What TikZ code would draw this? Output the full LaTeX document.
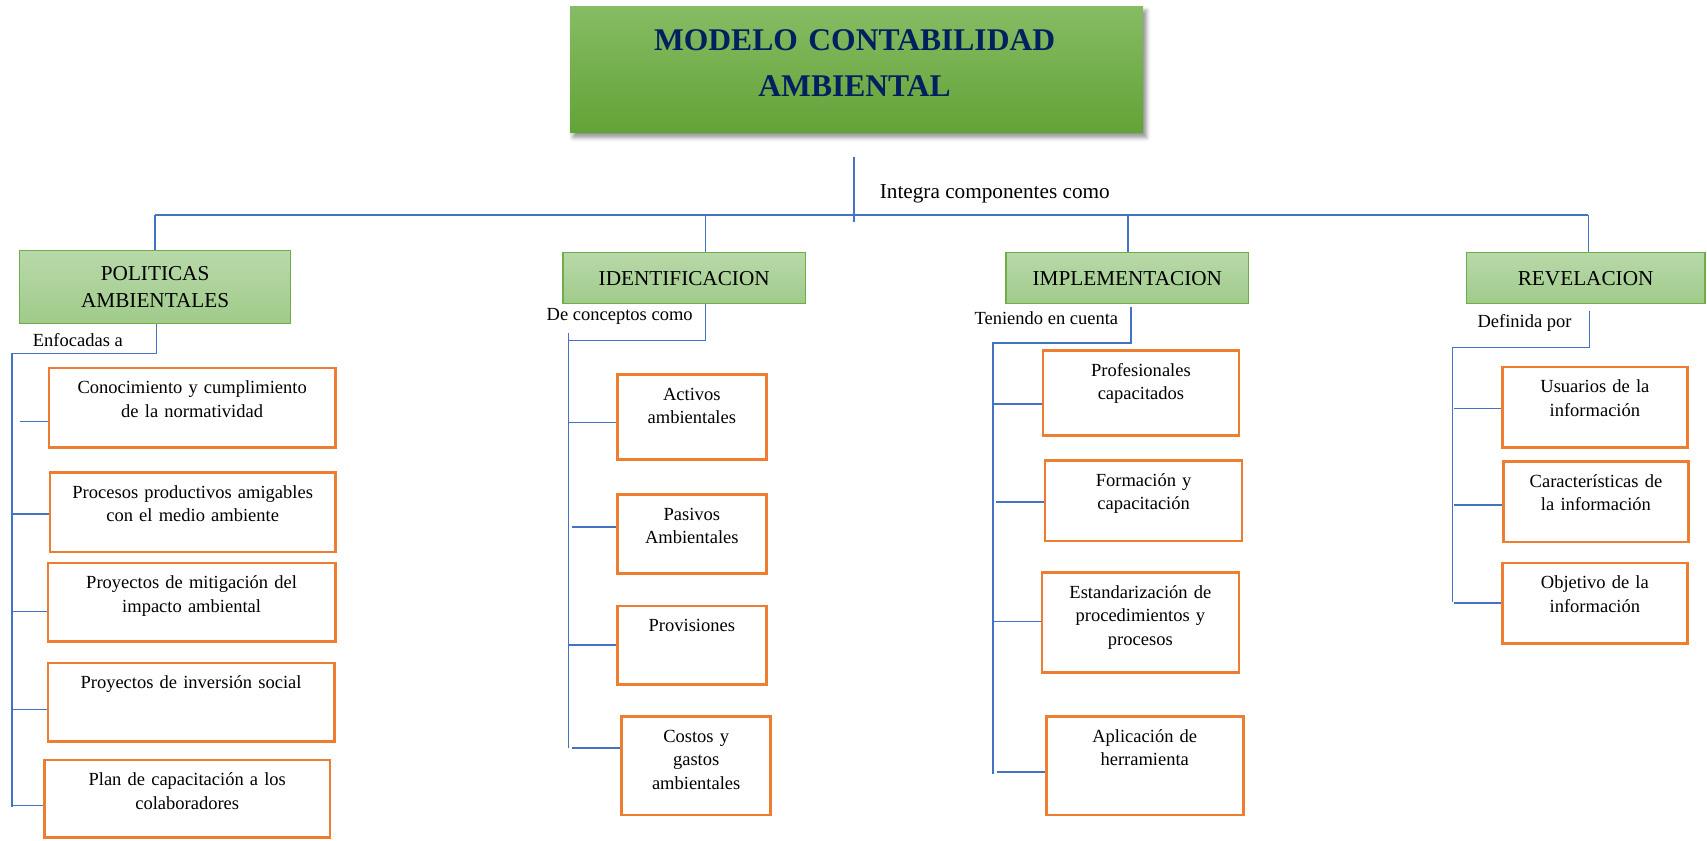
\documentclass[tikz,border=0pt]{standalone}
\usepackage{fontspec}
\setmainfont{Liberation Serif}
\usetikzlibrary{shadows.blur}

\definecolor{linkblue}{HTML}{4472C4}
\definecolor{boxorange}{HTML}{ED7D31}
\definecolor{headgreen}{HTML}{70AD47}
\definecolor{headtop}{RGB}{184,217,170}
\definecolor{headbot}{RGB}{160,203,138}
\definecolor{titletop}{RGB}{134,188,100}
\definecolor{titlebot}{RGB}{98,163,55}
\definecolor{titleink}{HTML}{002060}

% orange item box: name, left, top, right, bottom, text
\newcommand\itembox[6]{%
  \node[obox, minimum width={#4-#2}, minimum height={#5-#3}] (#1) at ({(#2+#4)/2},{(#3+#5)/2}) {};
  \node[btxt] (#1t) at ([yshift=-25pt]#1.north) {#6};}

\begin{document}
\begin{tikzpicture}[x=1pt,y=-1pt,
  link/.style={draw=linkblue, line width=1.2pt},
  obox/.style={draw=boxorange, line width=2.4pt, fill=white, inner sep=0pt},
  btxt/.style={font=\fontsize{17}{21.5}\selectfont, text width=250pt, align=center, anchor=base, inner sep=0pt},
  hbox/.style={draw=headgreen, line width=1.3pt, top color=headtop, bottom color=headbot,
               font=\fontsize{19.5}{25}\selectfont, align=center, inner sep=0pt},
  lbl/.style={font=\fontsize{17}{21}\selectfont, anchor=base west, inner sep=0pt},
  titlebox/.style={top color=titletop, bottom color=titlebot, inner sep=0pt,
               blur shadow={shadow xshift=3pt, shadow yshift=-4pt, shadow blur radius=4pt, shadow opacity=45}},
]
\useasboundingbox (0,0) rectangle (1568,772);

% title
\node[titlebox, minimum width=526.4pt, minimum height=116pt] (title) at (786.8,64) {};
\node[font=\fontsize{29}{42.4}\selectfont\bfseries, text=titleink, align=center,
      text width=500pt, anchor=base, inner sep=0pt] (titlet) at (785,46.6) {MODELO CONTABILIDAD\\AMBIENTAL};

\node[font=\fontsize{19.5}{24}\selectfont, anchor=base west, inner sep=0pt] (integra) at (808,182) {Integra componentes como};

% main branches
\node[hbox, minimum width=249pt, minimum height=67pt] (pol) at (142.5,263.5) {POLITICAS\\AMBIENTALES};
\node[hbox, minimum width=223pt, minimum height=47pt] (iden) at (628.5,255.5) {IDENTIFICACION};
\node[hbox, minimum width=223pt, minimum height=47pt] (impl) at (1035.5,255.5) {IMPLEMENTACION};
\node[hbox, minimum width=219pt, minimum height=47pt] (rev) at (1456.5,255.5) {REVELACION};

% labels under the branches
\node[lbl] (enf) at (30,318) {Enfocadas a};
\node[lbl] (dec) at (502,294) {De conceptos como};
\node[lbl] (ten) at (895,298) {Teniendo en cuenta};
\node[lbl] (def) at (1357,301) {Definida por};

% items
\itembox{p1}{45}{338}{308}{411}{Conocimiento y cumplimiento\\de la normatividad}
\itembox{p2}{46}{434}{308}{507}{Procesos productivos amigables\\con el medio ambiente}
\itembox{p3}{44}{517}{308}{589}{Proyectos de mitigación del\\impacto ambiental}
\itembox{p4}{44}{609}{307}{681}{Proyectos de inversión social}
\itembox{p5}{41}{698}{303}{769.5}{Plan de capacitación a los\\colaboradores}

\itembox{i1}{567}{344}{704}{422}{Activos\\ambientales}
\itembox{i2}{567}{454}{704}{527}{Pasivos\\Ambientales}
\itembox{i3}{567}{556.5}{704}{629}{Provisiones}
\itembox{i4}{571}{658}{708}{748.6}{Costos y\\gastos\\ambientales}

\itembox{m1}{958}{322}{1138}{400}{Profesionales\\capacitados}
\itembox{m2}{960}{423}{1141}{497}{Formación y\\capacitación}
\itembox{m3}{957}{526}{1138}{618}{Estandarización de\\procedimientos y\\procesos}
\itembox{m4}{961}{658}{1142}{748.6}{Aplicación de\\herramienta}

\itembox{r1}{1380}{337}{1550}{411}{Usuarios de la\\información}
\itembox{r2}{1381}{424}{1551}{498}{Características de\\la información}
\itembox{r3}{1380}{517}{1550}{591}{Objetivo de la\\información}

% trunk and bus
\coordinate (stemT) at (784.5,144);
\coordinate (stemB) at (784.5,204);
\coordinate (busW) at (142.5,197.5);
\coordinate (busE) at (1459,197.5);
\coordinate (dI) at (648,197.5);
\coordinate (dM) at (1036,197.5);
\draw[link] (stemT) -- (stemB);
\draw[link] (busW) -- (busE);
\draw[link] (busW) -- (pol.north);
\draw[link] (dI) -- (dI |- iden.north);
\draw[link] (dM) -- (dM |- impl.north);
\draw[link] (busE) -- (busE |- rev.north);

% politicas branch
\coordinate (polK) at (144,325);
\coordinate (polS) at (11,325);
\coordinate (polE) at (11,741);
\draw[link] (polK |- pol.south) -- (polK) -- (polS) -- (polE);
\coordinate (sp1) at (18,387);
\coordinate (sp2) at (11,472);
\coordinate (sp3) at (11,562);
\coordinate (sp4) at (11,652);
\coordinate (sp5) at (11,740);
\foreach \s/\b in {sp1/p1,sp2/p2,sp3/p3,sp4/p4,sp5/p5}
  \draw[link] (\s) -- (\s -| \b.west);

% identificacion branch
\coordinate (idK) at (648,313);
\coordinate (idS) at (522,313);
\coordinate (idT) at (522,306);
\coordinate (idE) at (522,687);
\draw[link] (idK |- iden.south) -- (idK) -- (idS);
\draw[link] (idT) -- (idE);
\coordinate (si1) at (523,388);
\coordinate (si2) at (525,484);
\coordinate (si3) at (522,592.5);
\coordinate (si4) at (525,687);
\foreach \s/\b in {si1/i1,si2/i2,si3/i3,si4/i4}
  \draw[link] (\s) -- (\s -| \b.west);

% implementacion branch
\coordinate (imT) at (1039,282);
\coordinate (imK) at (1039,315);
\coordinate (imS) at (912,315);
\coordinate (imE) at (912,711);
\draw[link] (imT) -- (imK) -- (imS) -- (imE);
\coordinate (sm1) at (912,371);
\coordinate (sm2) at (915,461);
\coordinate (sm3) at (912,571);
\coordinate (sm4) at (916,709);
\foreach \s/\b in {sm1/m1,sm2/m2,sm3/m3,sm4/m4}
  \draw[link] (\s) -- (\s -| \b.west);

% revelacion branch
\coordinate (rvT) at (1460,286);
\coordinate (rvK) at (1460,319);
\coordinate (rvS) at (1334,319);
\coordinate (rvE) at (1334,553);
\draw[link] (rvT) -- (rvK) -- (rvS) -- (rvE);
\coordinate (sr1) at (1336,375);
\coordinate (sr2) at (1336,464);
\coordinate (sr3) at (1336,554);
\foreach \s/\b in {sr1/r1,sr2/r2,sr3/r3}
  \draw[link] (\s) -- (\s -| \b.west);
\end{tikzpicture}
\end{document}
